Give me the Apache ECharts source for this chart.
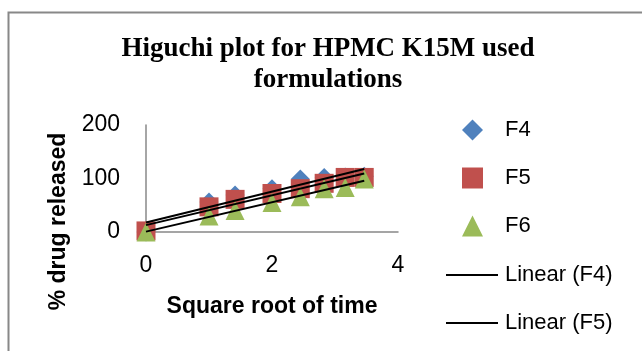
<!DOCTYPE html>
<html>
<head>
<meta charset="utf-8">
<script src="https://cdn.jsdelivr.net/npm/echarts@6/dist/echarts.min.js"></script>
<style>html,body{margin:0;padding:0;background:#fff}#c{width:642px;height:351px}</style>
</head>
<body>
<div id="c"></div>
<script>
// square root of time
var xValues = [0, 1, 1.414, 2, 2.449, 2.828, 3.162, 3.464];
var f4 = [0, 56, 69, 81, 99, 102, 103, 104];
var f5 = [2, 47, 61, 72, 81, 91, 102, 102];
var f6 = [0, 30, 40, 55, 66, 81, 83, 99];
var xTicks = [0, 2, 4];
var yTicks = [0, 100, 200];

function pairs(ys) { return xValues.map(function (x, i) { return [x, ys[i]]; }); }
function trend(ys) {
  var n = xValues.length, mx = 0, my = 0;
  for (var i = 0; i < n; i++) { mx += xValues[i]; my += ys[i]; }
  mx /= n; my /= n;
  var sxy = 0, sxx = 0;
  for (var j = 0; j < n; j++) { sxy += (xValues[j] - mx) * (ys[j] - my); sxx += (xValues[j] - mx) * (xValues[j] - mx); }
  var b = sxy / sxx, a = my - b * mx;
  var x0 = xValues[0], x1 = xValues[n - 1];
  return [[x0, a + b * x0], [x1, a + b * x1]];
}

var chart = echarts.init(document.getElementById('c'));
var sans = 'Liberation Sans';
var legendText = { fontFamily: sans, fontSize: 22, color: '#000' };
chart.setOption({
  animation: false,
  title: {
    text: 'Higuchi plot for HPMC K15M used\nformulations',
    left: 328, top: 34, padding: 0, textAlign: 'center',
    textStyle: { fontFamily: 'Liberation Serif', fontWeight: 'bold', fontSize: 27, lineHeight: 31, color: '#000' }
  },
  graphic: [{
    type: 'rect', left: 6, top: 10, silent: true,
    shape: { width: 700, height: 400 },
    style: { fill: 'none', stroke: '#888', lineWidth: 2 }
  }],
  legend: [{
    orient: 'vertical', left: 462, top: 119, padding: 0,
    itemWidth: 21, itemHeight: 21, itemGap: 26,
    data: [{ name: 'F4', icon: 'diamond' }, { name: 'F5', icon: 'rect' }, { name: 'F6', icon: 'triangle' }],
    itemStyle: { opacity: 1 },
    textStyle: Object.assign({ padding: [0, 0, 0, 17] }, legendText)
  }, {
    orient: 'vertical', left: 446, top: 264, padding: 0,
    itemWidth: 52, itemHeight: 2, itemGap: 26,
    data: [{ name: 'Linear (F4)', icon: 'rect' }, { name: 'Linear (F5)', icon: 'rect' }],
    textStyle: Object.assign({ padding: [0, 0, 0, 2] }, legendText)
  }],
  grid: { left: 146, top: 125, width: 252, height: 107 },
  xAxis: {
    type: 'value', min: 0, max: 4, interval: 2,
    name: 'Square root of time', nameLocation: 'middle', nameGap: 63,
    nameTextStyle: { fontFamily: sans, fontWeight: 'bold', fontSize: 23, color: '#000' },
    axisLine: { show: true, onZero: false, lineStyle: { color: '#888', width: 1.5 } },
    axisTick: { show: false },
    splitLine: { show: false },
    axisLabel: { margin: 22, fontFamily: sans, fontSize: 23, color: '#000',
      formatter: function (v) { return xTicks.indexOf(v) >= 0 ? String(v) : ''; } }
  },
  yAxis: {
    type: 'value', min: 0, max: 200, interval: 100,
    name: '% drug released', nameLocation: 'middle', nameGap: 76,
    nameTextStyle: { fontFamily: sans, fontWeight: 'bold', fontSize: 23, color: '#000', padding: [0, 86, 0, 0] },
    axisLine: { show: true, lineStyle: { color: '#888', width: 1.5 } },
    axisTick: { show: false },
    splitLine: { show: false },
    axisLabel: { margin: 26, fontFamily: sans, fontSize: 23, color: '#000',
      formatter: function (v) { return yTicks.indexOf(v) >= 0 ? String(v) : ''; } }
  },
  series: [
    { name: 'F4', type: 'scatter', symbol: 'diamond', symbolSize: 19, z: 2, itemStyle: { color: '#4F81BD', opacity: 1 }, data: pairs(f4) },
    { name: 'F5', type: 'scatter', symbol: 'rect', symbolSize: 19, z: 3, itemStyle: { color: '#C0504D', opacity: 1 }, data: pairs(f5) },
    { name: 'F6', type: 'scatter', symbol: 'triangle', symbolSize: 19, z: 4, itemStyle: { color: '#9BBB59', opacity: 1 }, data: pairs(f6) },
    { name: 'Linear (F4)', type: 'line', symbol: 'none', z: 5, lineStyle: { color: '#000', width: 2 }, itemStyle: { color: '#000' }, data: trend(f4) },
    { name: 'Linear (F5)', type: 'line', symbol: 'none', z: 5, lineStyle: { color: '#000', width: 2 }, itemStyle: { color: '#000' }, data: trend(f5) },
    { name: 'Linear (F6)', type: 'line', symbol: 'none', z: 5, lineStyle: { color: '#000', width: 2 }, itemStyle: { color: '#000' }, data: trend(f6) }
  ]
});
</script>
</body>
</html>
